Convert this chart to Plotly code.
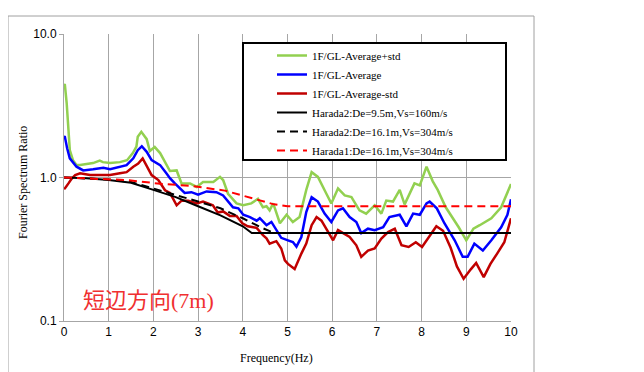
import plotly.graph_objects as go

# ---- data ----
f_plus = [0, 0.02, 0.06, 0.09, 0.13, 0.20, 0.28, 0.36, 0.51, 0.65, 0.80, 0.87, 1.03, 1.25, 1.41, 1.54, 1.62, 1.65,
          1.73, 1.85, 1.92, 2.03, 2.15, 2.29, 2.37, 2.52, 2.63, 2.82, 2.97, 3.11, 3.34, 3.49, 3.56, 3.67, 3.86, 4.01,
          4.19, 4.34, 4.45, 4.53, 4.60, 4.68, 4.75, 4.83, 4.98, 5.12, 5.27, 5.42, 5.54, 5.68, 5.87, 5.98, 6.13, 6.28,
          6.43, 6.61, 6.76, 6.95, 7.10, 7.21, 7.36, 7.51, 7.62, 7.73, 7.84, 7.96, 8.11, 8.25, 8.36, 8.54, 8.69, 8.83,
          9.00, 9.16, 9.30, 9.43, 9.56, 9.78, 9.89, 10.0]
v_plus = [4.46, 4.41, 3.30, 2.32, 1.55, 1.32, 1.22, 1.22, 1.24, 1.26, 1.31, 1.28, 1.26, 1.28, 1.32, 1.48, 1.64, 1.92,
          2.08, 1.85, 1.53, 1.63, 1.48, 1.22, 1.11, 1.12, 0.91, 0.91, 0.86, 0.93, 0.93, 1.01, 0.96, 0.77, 0.66, 0.64,
          0.66, 0.71, 0.62, 0.63, 0.59, 0.66, 0.56, 0.48, 0.55, 0.49, 0.53, 0.82, 1.09, 1.01, 0.77, 0.66, 0.84, 0.75,
          0.73, 0.59, 0.56, 0.64, 0.56, 0.69, 0.68, 0.82, 0.65, 0.76, 0.91, 0.88, 1.19, 0.94, 0.82, 0.62, 0.53, 0.45,
          0.365, 0.44, 0.465, 0.49, 0.52, 0.62, 0.75, 0.90]

f_avg = [0, 0.02, 0.07, 0.13, 0.28, 0.43, 0.65, 0.88, 1.03, 1.25, 1.40, 1.55, 1.65, 1.74, 1.85, 1.96, 2.15, 2.29,
         2.37, 2.48, 2.59, 2.70, 2.85, 3.00, 3.19, 3.41, 3.56, 3.67, 3.78, 3.90, 4.01, 4.16, 4.31, 4.38, 4.53, 4.64,
         4.75, 4.86, 5.01, 5.12, 5.20, 5.31, 5.42, 5.54, 5.68, 5.83, 5.98, 6.13, 6.24, 6.39, 6.54, 6.65, 6.80, 6.95,
         7.14, 7.28, 7.51, 7.66, 7.81, 7.96, 8.11, 8.18, 8.34, 8.51, 8.74, 8.92, 9.03, 9.18, 9.37, 9.56, 9.78, 9.92,
         10.0]
v_avg = [1.94, 1.92, 1.60, 1.36, 1.19, 1.12, 1.14, 1.17, 1.14, 1.19, 1.22, 1.36, 1.55, 1.65, 1.51, 1.32, 1.22, 1.07,
         0.99, 0.91, 0.84, 0.78, 0.79, 0.76, 0.80, 0.79, 0.75, 0.68, 0.62, 0.61, 0.55, 0.53, 0.50, 0.52, 0.465, 0.49,
         0.43, 0.38, 0.365, 0.355, 0.33, 0.385, 0.575, 0.73, 0.68, 0.56, 0.49, 0.59, 0.61, 0.53, 0.49, 0.41, 0.44, 0.43,
         0.45, 0.53, 0.55, 0.457, 0.56, 0.55, 0.66, 0.68, 0.61, 0.48, 0.365, 0.28, 0.28, 0.346, 0.31, 0.365, 0.45, 0.55,
         0.705]

f_minus = [0, 0.02, 0.10, 0.17, 0.25, 0.36, 0.58, 0.80, 1.03, 1.25, 1.40, 1.55, 1.66, 1.76, 1.85, 1.96, 2.11, 2.26,
           2.37, 2.52, 2.63, 2.78, 2.97, 3.11, 3.33, 3.44, 3.56, 3.71, 3.86, 3.99, 4.11, 4.31, 4.45, 4.53, 4.60, 4.75,
           4.86, 4.94, 5.01, 5.16, 5.31, 5.42, 5.54, 5.65, 5.76, 5.87, 6.02, 6.13, 6.24, 6.39, 6.54, 6.65, 6.80, 6.95,
           7.10, 7.25, 7.40, 7.55, 7.71, 7.87, 8.01, 8.16, 8.33, 8.48, 8.65, 8.79, 8.94, 9.10, 9.22, 9.39, 9.54, 9.69,
           9.85, 10.0]
v_minus = [0.83, 0.84, 0.91, 0.98, 1.04, 1.07, 1.04, 1.04, 1.04, 1.07, 1.09, 1.19, 1.25, 1.36, 1.20, 1.04, 0.96, 0.815,
           0.78, 0.64, 0.69, 0.69, 0.66, 0.68, 0.64, 0.57, 0.58, 0.54, 0.54, 0.48, 0.457, 0.446, 0.396, 0.377, 0.346,
           0.36, 0.32, 0.265, 0.25, 0.23, 0.295, 0.346, 0.465, 0.53, 0.50, 0.44, 0.365, 0.43, 0.41, 0.385, 0.337, 0.28,
           0.31, 0.32, 0.375, 0.417, 0.44, 0.337, 0.328, 0.354, 0.328, 0.383, 0.457, 0.425, 0.324, 0.24, 0.197, 0.229,
           0.254, 0.202, 0.25, 0.295, 0.354, 0.52]

f_h2a = [0, 0.5, 1.0, 1.5, 2.0, 2.5, 3.0, 3.5, 4.0, 4.2, 10.0]
v_h2a = [1.0, 0.99, 0.96, 0.92, 0.82, 0.73, 0.63, 0.545, 0.457, 0.41, 0.41]

f_h2b = [0, 0.5, 1.0, 1.5, 2.0, 2.5, 3.0, 3.5, 4.0, 4.4, 4.7, 10.0]
v_h2b = [1.0, 0.99, 0.97, 0.93, 0.84, 0.76, 0.68, 0.61, 0.52, 0.45, 0.41, 0.41]

f_h1 = [0, 0.65, 1.4, 2.15, 2.9, 3.6, 4.4, 4.7, 5.0, 10.0]
v_h1 = [1.0, 0.985, 0.96, 0.905, 0.87, 0.81, 0.695, 0.65, 0.63, 0.63]

names = ["1F/GL-Average+std", "1F/GL-Average", "1F/GL-Average-std",
         "Harada2:De=9.5m,Vs=160m/s", "Harada2:De=16.1m,Vs=304m/s", "Harada1:De=16.1m,Vs=304m/s"]

y_tickvals = [0.1, 1, 10]
y_ticktext = ["0.1", "1.0", "10.0"]
x_tickvals = list(range(0, 11))

serif = "Liberation Serif, Times New Roman, serif"
sans = "Liberation Sans, Arial, sans-serif"

fig = go.Figure()
fig.add_trace(go.Scatter(x=f_plus, y=v_plus, mode="lines", name=names[0],
                         line=dict(color="#92D050", width=2.5)))
fig.add_trace(go.Scatter(x=f_avg, y=v_avg, mode="lines", name=names[1],
                         line=dict(color="#0000FF", width=2.5)))
fig.add_trace(go.Scatter(x=f_minus, y=v_minus, mode="lines", name=names[2],
                         line=dict(color="#C00000", width=2.5)))
fig.add_trace(go.Scatter(x=f_h2b, y=v_h2b, mode="lines", name=names[4], showlegend=False,
                         line=dict(color="#000000", width=2, dash="8px,5px")))
fig.add_trace(go.Scatter(x=f_h2a, y=v_h2a, mode="lines", name=names[3],
                         line=dict(color="#000000", width=2)))
fig.add_trace(go.Scatter(x=[None], y=[None], mode="lines", name=names[4],
                         line=dict(color="#000000", width=2, dash="8px,5px")))
fig.add_trace(go.Scatter(x=f_h1, y=v_h1, mode="lines", name=names[5],
                         line=dict(color="#FF0000", width=2, dash="8px,5px")))

grid = "#A6A6A6"
fig.update_xaxes(range=[0, 10], tickvals=x_tickvals, showgrid=True, gridcolor=grid, gridwidth=1,
                 showline=True, linecolor=grid, linewidth=1, zeroline=False, ticks="",
                 tickfont=dict(family=sans, size=12, color="#000"))
fig.update_yaxes(type="log", range=[-1, 1], tickvals=y_tickvals, ticktext=y_ticktext, showgrid=True,
                 gridcolor=grid, gridwidth=1, showline=True, linecolor=grid, linewidth=1,
                 ticks="outside", ticklen=4, tickcolor=grid,
                 tickfont=dict(family=sans, size=12, color="#000"))

# page coords: plot area x 64..511, y 34..321 (the page body adds an 8px offset)
def px(x):
    return (x - 64) / 447.0

def py(y):
    return (321 - y) / 287.0

fig.update_layout(
    width=644, height=372,
    margin=dict(l=56, r=141, t=26, b=59),
    paper_bgcolor="white", plot_bgcolor="white",
    showlegend=True,
    legend=dict(x=px(272), y=py(41), xanchor="left", yanchor="top",
                bgcolor="rgba(0,0,0,0)", borderwidth=0,
                font=dict(family=serif, size=11, color="#000"),
                tracegroupgap=0, itemwidth=30),
    shapes=[
        dict(type="rect", xref="paper", yref="paper", x0=px(8), x1=px(534), y0=py(390), y1=py(16),
             line=dict(color="#A0A0A0", width=1), fillcolor="rgba(0,0,0,0)", layer="below"),
        dict(type="rect", xref="paper", yref="paper", x0=px(243), x1=px(506), y0=py(160), y1=py(43),
             line=dict(color="#000000", width=2), fillcolor="white", layer="above"),
    ],
    annotations=[
        dict(text="Fourier Spectrum Ratio", xref="paper", yref="paper", x=px(23), y=py(183),
             textangle=-90, showarrow=False, font=dict(family=serif, size=12, color="#000"),
             xanchor="center", yanchor="middle"),
        dict(text="Frequency(Hz)", xref="paper", yref="paper", x=px(276), y=py(358),
             showarrow=False, font=dict(family=serif, size=12, color="#000"),
             xanchor="center", yanchor="middle"),
        dict(text="短辺方向(7m)", xref="paper", yref="paper", x=px(148), y=py(300),
             showarrow=False, font=dict(family="Liberation Serif, Noto Sans CJK JP", size=22, color="#F03030"),
             xanchor="center", yanchor="middle"),
    ],
)

fig.write_html("out.html")
